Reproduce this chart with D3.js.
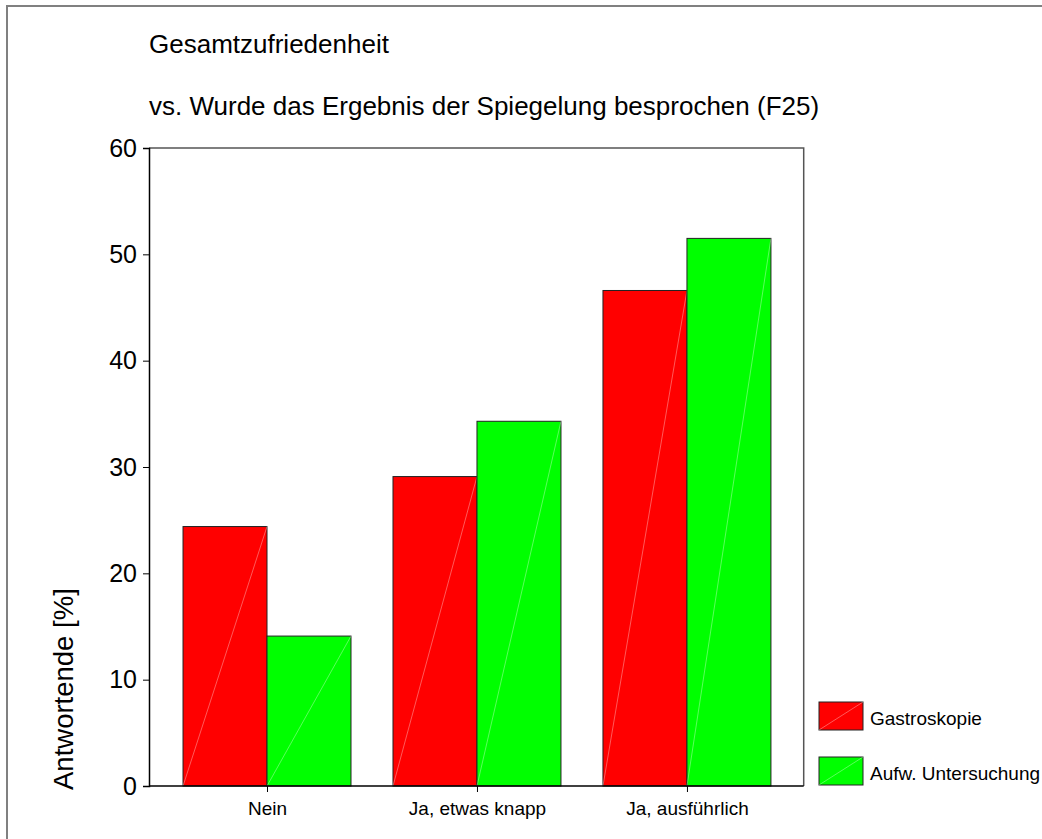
<!DOCTYPE html>
<html>
<head>
<meta charset="utf-8">
<script src="https://d3js.org/d3.v7.min.js"></script>
<style>
  body { margin: 0; background: #fff; }
  svg text { font-family: "Liberation Sans", Arial, sans-serif; fill: #000; }
</style>
</head>
<body>
<script>
var categories = ["Nein", "Ja, etwas knapp", "Ja, ausführlich"];
var seriesNames = ["Gastroskopie", "Aufw. Untersuchung"];
var gastro = [24.4, 29.1, 46.6];
var aufw = [14.1, 34.3, 51.5];
var yTicks = [0, 10, 20, 30, 40, 50, 60];
var colors = ["#ff0000", "#00ff00"];

var W = 1042, H = 839;
var plotL = 149, plotR = 803.7, plotT = 148, plotB = 786;

var svg = d3.select("body").append("svg")
    .attr("width", W).attr("height", H);

// outer frame
svg.append("rect")
    .attr("x", 7).attr("y", 6)
    .attr("width", W + 20).attr("height", H + 20)
    .attr("fill", "none").attr("stroke", "#808080").attr("stroke-width", 2);

var x = d3.scaleLinear().domain([0.438, 3.556]).range([plotL, plotR]);
var y = d3.scaleLinear().domain([0, 60]).range([plotB, plotT]);
var barW = x(1.4) - x(1);

// titles
svg.append("text").attr("x", 149).attr("y", 53)
    .attr("font-size", 26).text("Gesamtzufriedenheit");
svg.append("text").attr("x", 149).attr("y", 115)
    .attr("font-size", 26).text("vs. Wurde das Ergebnis der Spiegelung besprochen (F25)");

// plot box (top / right)
svg.append("path")
    .attr("d", "M" + plotL + "," + plotT + "H" + plotR + "V" + plotB)
    .attr("fill", "none").attr("stroke", "#555").attr("stroke-width", 1.5);

// bars
var rows = categories.map(function (c, i) {
    return { cat: i + 1, vals: [gastro[i], aufw[i]] };
});
rows.forEach(function (r) {
    r.vals.forEach(function (v, s) {
        var x0 = s === 0 ? x(r.cat) - barW : x(r.cat);
        var g = svg.append("g");
        g.append("rect")
            .attr("x", x0).attr("y", y(v))
            .attr("width", barW).attr("height", y(0) - y(v))
            .attr("fill", colors[s]).attr("stroke", "#222").attr("stroke-width", 1);
        g.append("line")
            .attr("x1", x0).attr("y1", y(0))
            .attr("x2", x0 + barW).attr("y2", y(v))
            .attr("stroke", "#fff").attr("stroke-opacity", 0.35).attr("stroke-width", 1);
    });
});

// y axis
var yAxis = svg.append("g").attr("transform", "translate(" + plotL + ",0)")
    .call(d3.axisLeft(y).tickValues(yTicks).tickSize(6).tickPadding(6).tickFormat(d3.format("d")));
yAxis.select(".domain").attr("stroke", "#000").attr("stroke-width", 1.5);
yAxis.selectAll(".tick line").attr("stroke", "#000");
yAxis.selectAll("text").attr("font-size", 25).attr("font-family", "Liberation Sans, Arial, sans-serif");

// x axis
var xAxis = svg.append("g").attr("transform", "translate(0," + plotB + ")")
    .call(d3.axisBottom(x).tickValues([1, 2, 3]).tickSize(6).tickPadding(10)
        .tickFormat(function (d) { return categories[d - 1]; }));
xAxis.select(".domain").attr("stroke", "#000").attr("stroke-width", 1.5)
    .attr("d", "M" + plotL + ",0H" + plotR);
xAxis.selectAll(".tick line").attr("stroke", "#000");
xAxis.selectAll("text").attr("font-size", 19).attr("font-family", "Liberation Sans, Arial, sans-serif");

// y label
svg.append("text")
    .attr("transform", "translate(73,790) rotate(-90)")
    .attr("font-size", 27.5).text("Antwortende [%]");

// legend
seriesNames.forEach(function (n, i) {
    var ly = 702 + i * 55;
    svg.append("rect").attr("x", 819).attr("y", ly).attr("width", 44).attr("height", 28)
        .attr("fill", colors[i]).attr("stroke", "#222").attr("stroke-width", 1);
    svg.append("line").attr("x1", 819).attr("y1", ly + 28).attr("x2", 863).attr("y2", ly)
        .attr("stroke", "#fff").attr("stroke-opacity", 0.35);
    svg.append("text").attr("x", 870).attr("y", ly + 23).attr("font-size", 19).text(n);
});
</script>
</body>
</html>
